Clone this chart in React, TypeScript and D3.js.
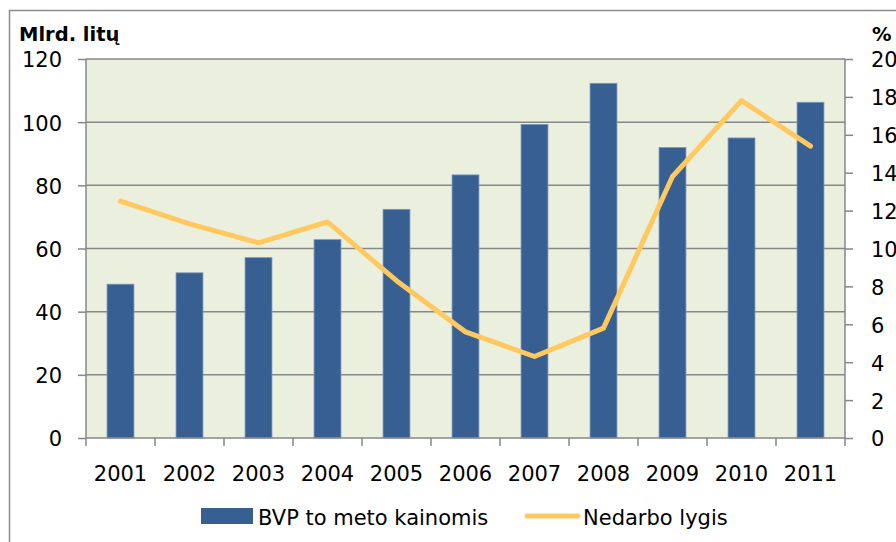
import React, { useEffect, useRef } from "react";
import * as d3 from "d3";

const years = ["2001", "2002", "2003", "2004", "2005", "2006", "2007", "2008", "2009", "2010", "2011"];
const gdp = [48.7, 52.3, 57.1, 62.8, 72.4, 83.3, 99.3, 112.3, 92.0, 95.0, 106.3];
const unemployment = [12.5, 11.3, 10.3, 11.4, 8.3, 5.6, 4.3, 5.8, 13.8, 17.8, 15.4];
const leftTicks = [0, 20, 40, 60, 80, 100, 120];
const rightTicks = [0, 2, 4, 6, 8, 10, 12, 14, 16, 18, 20];
const leftTitle = "Mlrd. litų";
const rightTitle = "%";
const barLabel = "BVP to meto kainomis";
const lineLabel = "Nedarbo lygis";

const FONT = "'DejaVu Sans', sans-serif";
const GRID = "#878787";

const App = () => {
  const ref = useRef<SVGSVGElement>(null);

  useEffect(() => {
    const svg = d3.select(ref.current);
    svg.selectAll("*").remove();

    const margin = { top: 59, right: 51, bottom: 104, left: 86 };
    const W = 896, H = 542;
    const x0 = margin.left, x1 = W - margin.right;
    const y0 = H - margin.bottom, y1 = margin.top;

    // outer frame
    svg.append("rect")
      .attr("x", 9.5).attr("y", 10.5)
      .attr("width", 920).attr("height", 600)
      .attr("fill", "white").attr("stroke", "#8c8c8c").attr("stroke-width", 1.5);

    const x = d3.scaleBand().domain(years).range([x0, x1]).paddingInner(0.61).paddingOuter(0.305);
    const yL = d3.scaleLinear().domain([0, 120]).range([y0, y1]);
    const yR = d3.scaleLinear().domain([0, 20]).range([y0, y1]);

    // plot background
    svg.append("rect")
      .attr("x", x0).attr("y", y1)
      .attr("width", x1 - x0).attr("height", y0 - y1)
      .attr("fill", "#ebefde");

    // gridlines
    svg.append("g")
      .selectAll("line")
      .data(leftTicks.filter(d => d > 0))
      .join("line")
      .attr("x1", x0).attr("x2", x1)
      .attr("y1", d => yL(d)).attr("y2", d => yL(d))
      .attr("stroke", GRID).attr("stroke-width", 1.5);

    // bars
    svg.append("g")
      .selectAll("rect")
      .data(years)
      .join("rect")
      .attr("x", d => x(d)!)
      .attr("width", x.bandwidth())
      .attr("y", (d, i) => yL(gdp[i]))
      .attr("height", (d, i) => y0 - yL(gdp[i]))
      .attr("fill", "#375f91")
      .attr("stroke", "#7d98bd")
      .attr("stroke-width", 0.8);

    // left axis
    const gl = svg.append("g")
      .attr("transform", `translate(${x0},0)`)
      .call(d3.axisLeft(yL).tickValues(leftTicks).tickSize(8).tickPadding(16));
    // right axis
    const gr = svg.append("g")
      .attr("transform", `translate(${x1},0)`)
      .call(d3.axisRight(yR).tickValues(rightTicks).tickSize(8).tickPadding(18));

    [gl, gr].forEach(g => {
      g.select(".domain").attr("stroke", GRID).attr("stroke-width", 1.5)
        .attr("d", `M0,${y1}V${y0}`);
      g.selectAll(".tick line").attr("stroke", GRID).attr("stroke-width", 1.5);
      g.selectAll(".tick text")
        .attr("font-family", FONT).attr("font-size", 21).attr("fill", "#000")
        .attr("dy", "0.38em");
    });

    // bottom axis line and category boundary ticks
    svg.append("line")
      .attr("x1", x0).attr("x2", x1).attr("y1", y0).attr("y2", y0)
      .attr("stroke", GRID).attr("stroke-width", 1.5);
    svg.append("g")
      .selectAll("line")
      .data(d3.range(years.length + 1))
      .join("line")
      .attr("x1", i => x.range()[0] + i * x.step())
      .attr("x2", i => x.range()[0] + i * x.step())
      .attr("y1", y0).attr("y2", y0 + 8)
      .attr("stroke", GRID).attr("stroke-width", 1.5);

    svg.append("g")
      .selectAll("text")
      .data(years)
      .join("text")
      .attr("x", d => x(d)! + x.bandwidth() / 2)
      .attr("y", 481)
      .attr("text-anchor", "middle")
      .attr("font-family", FONT).attr("font-size", 21)
      .text(d => d);

    // unemployment line
    const line = d3.line<number>()
      .x((d, i) => x(years[i])! + x.bandwidth() / 2)
      .y(d => yR(d));
    svg.append("path")
      .datum(unemployment)
      .attr("d", line)
      .attr("fill", "none")
      .attr("stroke", "#ffc95f")
      .attr("stroke-width", 5)
      .attr("stroke-linejoin", "round")
      .attr("stroke-linecap", "round");

    // axis titles
    svg.append("text")
      .attr("x", 19).attr("y", 41)
      .attr("font-family", FONT).attr("font-weight", "bold").attr("font-size", 19.5)
      .text(leftTitle);
    svg.append("text")
      .attr("x", 872).attr("y", 41)
      .attr("font-family", FONT).attr("font-weight", "bold").attr("font-size", 19.5)
      .text(rightTitle);

    // legend
    const lg = svg.append("g");
    lg.append("rect")
      .attr("x", 201).attr("y", 508).attr("width", 52).attr("height", 16)
      .attr("fill", "#375f91");
    lg.append("text")
      .attr("x", 258).attr("y", 525)
      .attr("font-family", FONT).attr("font-size", 21)
      .text(barLabel);
    lg.append("line")
      .attr("x1", 527).attr("x2", 578).attr("y1", 516).attr("y2", 516)
      .attr("stroke", "#ffc95f").attr("stroke-width", 5).attr("stroke-linecap", "round");
    lg.append("text")
      .attr("x", 583).attr("y", 525)
      .attr("font-family", FONT).attr("font-size", 21)
      .text(lineLabel);
  }, []);

  return (
    <svg
      ref={ref}
      width={896}
      height={542}
      style={{ position: "absolute", left: 0, top: 0, background: "white" }}
    />
  );
};

export default App;
